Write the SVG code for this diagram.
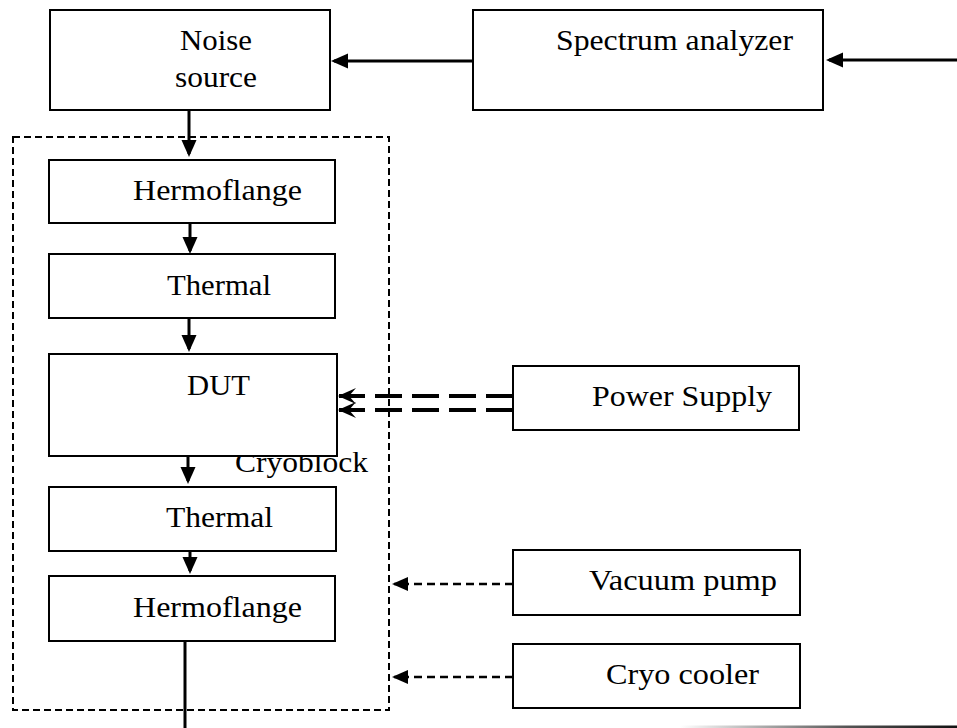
<svg xmlns="http://www.w3.org/2000/svg" width="957" height="728" viewBox="0 0 957 728">
<style>
.box{fill:#fff;stroke:#000;stroke-width:2}
.t{font-family:"Liberation Serif","Times New Roman",serif;font-size:29px;fill:#000}
.solid{stroke:#000;stroke-width:3;fill:none}
.dsh{stroke:#000;stroke-width:2.5;stroke-dasharray:8 5;fill:none}
.ps{stroke:#000;stroke-width:4;stroke-dasharray:27 10;fill:none}
.encl{fill:none;stroke:#000;stroke-width:2;stroke-dasharray:7 4}
</style>
<defs>
<marker id="tri" markerUnits="userSpaceOnUse" markerWidth="18" markerHeight="16" refX="14" refY="7.5" orient="auto">
<path d="M0,0 L17,7.5 L0,15 z" fill="#000"/>
</marker>
<marker id="tris" markerUnits="userSpaceOnUse" markerWidth="18" markerHeight="16" refX="14" refY="7" orient="auto">
<path d="M0,0 L16,7 L0,14 z" fill="#000"/>
</marker>
<marker id="barb" markerUnits="userSpaceOnUse" markerWidth="20" markerHeight="18" refX="17" refY="8" orient="auto">
<path d="M0,0 L18,8 L0,16 L7,8 z" fill="#000"/>
</marker>
<linearGradient id="g" x1="680" y1="0" x2="957" y2="0" gradientUnits="userSpaceOnUse">
<stop offset="0" stop-color="#fff"/>
<stop offset="0.6" stop-color="#555"/>
<stop offset="1" stop-color="#111"/>
</linearGradient>
</defs>

<rect id="enclosure" class="encl" x="13" y="137" width="376" height="573"/>

<g id="connectors">
<line class="solid" x1="473" y1="61" x2="334" y2="61" marker-end="url(#tri)"/>
<line class="solid" x1="957" y1="60" x2="829" y2="60" marker-end="url(#tri)"/>
<line class="solid" x1="189" y1="110" x2="189" y2="154" marker-end="url(#tri)"/>
<line class="solid" x1="190" y1="223" x2="190" y2="251" marker-end="url(#tri)"/>
<line class="solid" x1="189" y1="318" x2="189" y2="349" marker-end="url(#tri)"/>
<line class="solid" x1="188" y1="456" x2="188" y2="481" marker-end="url(#tri)"/>
<line class="solid" x1="190" y1="551" x2="190" y2="571" marker-end="url(#tri)"/>
<line class="solid" x1="185" y1="641" x2="185" y2="728"/>
<line class="ps" x1="513" y1="396" x2="339" y2="396" marker-end="url(#barb)"/>
<line class="ps" x1="513" y1="410" x2="339" y2="410" marker-end="url(#barb)"/>
<line class="dsh" x1="513" y1="584" x2="394" y2="584" marker-end="url(#tris)"/>
<line class="dsh" x1="513" y1="677" x2="394" y2="677" marker-end="url(#tris)"/>
</g>

<text id="cryoblock" class="t" x="235" y="472" textLength="133" lengthAdjust="spacingAndGlyphs">Cryoblock</text>

<g id="noise-source">
<rect class="box" x="50" y="10" width="280" height="100"/>
<text class="t" x="180" y="50" textLength="72" lengthAdjust="spacingAndGlyphs">Noise</text>
<text class="t" x="175" y="87" textLength="82" lengthAdjust="spacingAndGlyphs">source</text>
</g>
<g id="spectrum-analyzer">
<rect class="box" x="473" y="10" width="350" height="100"/>
<text class="t" x="556" y="50" textLength="237" lengthAdjust="spacingAndGlyphs">Spectrum analyzer</text>
</g>
<g id="hermoflange-1">
<rect class="box" x="49" y="160" width="286" height="63"/>
<text class="t" x="133" y="200" textLength="169" lengthAdjust="spacingAndGlyphs">Hermoflange</text>
</g>
<g id="thermal-1">
<rect class="box" x="49" y="254" width="286" height="64"/>
<text class="t" x="167" y="295" textLength="104" lengthAdjust="spacingAndGlyphs">Thermal</text>
</g>
<g id="dut">
<rect class="box" x="49" y="354" width="288" height="102"/>
<text class="t" x="187" y="395" textLength="63" lengthAdjust="spacingAndGlyphs">DUT</text>
</g>
<g id="power-supply">
<rect class="box" x="513" y="366" width="286" height="64"/>
<text class="t" x="592" y="406" textLength="180" lengthAdjust="spacingAndGlyphs">Power Supply</text>
</g>
<g id="thermal-2">
<rect class="box" x="49" y="487" width="287" height="64"/>
<text class="t" x="166" y="527" textLength="107" lengthAdjust="spacingAndGlyphs">Thermal</text>
</g>
<g id="hermoflange-2">
<rect class="box" x="49" y="576" width="286" height="65"/>
<text class="t" x="133" y="617" textLength="169" lengthAdjust="spacingAndGlyphs">Hermoflange</text>
</g>
<g id="vacuum-pump">
<rect class="box" x="513" y="550" width="287" height="65"/>
<text class="t" x="589" y="590" textLength="188" lengthAdjust="spacingAndGlyphs">Vacuum pump</text>
</g>
<g id="cryo-cooler">
<rect class="box" x="513" y="644" width="287" height="64"/>
<text class="t" x="606" y="684" textLength="153" lengthAdjust="spacingAndGlyphs">Cryo cooler</text>
</g>

<rect x="680" y="725.5" width="277" height="2.5" fill="url(#g)"/>
</svg>
